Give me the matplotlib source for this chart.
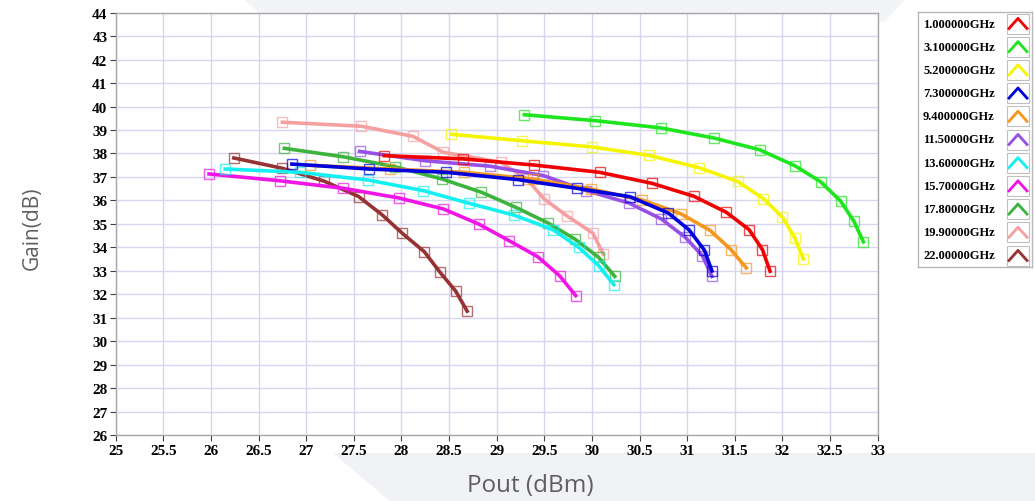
import matplotlib
matplotlib.use("Agg")
from matplotlib import pyplot as plt
from matplotlib.patches import Polygon, Rectangle

# frequency labels as shown in the legend
freq_labels = ["1.000000GHz", "3.100000GHz", "5.200000GHz", "7.300000GHz",
               "9.400000GHz", "11.50000GHz", "13.60000GHz", "15.70000GHz",
               "17.80000GHz", "19.90000GHz", "22.00000GHz"]

pout_1g0 = [27.82, 28.65, 29.39, 30.08, 30.63, 31.07, 31.41, 31.65, 31.79, 31.87]
gain_1g0 = [37.91, 37.77, 37.51, 37.20, 36.73, 36.18, 35.50, 34.76, 33.91, 32.99]

pout_3g1 = [29.29, 30.03, 30.72, 31.28, 31.76, 32.13, 32.40, 32.61, 32.75, 32.85]
gain_3g1 = [39.65, 39.40, 39.09, 38.66, 38.16, 37.48, 36.80, 35.98, 35.12, 34.24]

pout_5g2 = [28.52, 29.27, 30.00, 30.60, 31.12, 31.53, 31.80, 32.00, 32.13, 32.22]
gain_5g2 = [38.82, 38.54, 38.28, 37.92, 37.40, 36.81, 36.08, 35.29, 34.41, 33.51]

pout_7g3 = [26.85, 27.66, 28.47, 29.22, 29.84, 30.40, 30.80, 31.02, 31.18, 31.26]
gain_7g3 = [37.55, 37.34, 37.20, 36.89, 36.52, 36.16, 35.47, 34.75, 33.89, 33.00]

pout_9g4 = [27.04, 27.88, 28.66, 29.38, 29.99, 30.53, 30.93, 31.24, 31.46, 31.62]
gain_9g4 = [37.50, 37.34, 37.20, 36.91, 36.49, 36.02, 35.44, 34.73, 33.91, 33.13]

pout_11g5 = [27.56, 28.25, 28.93, 29.49, 29.94, 30.39, 30.73, 30.98, 31.16, 31.26]
gain_11g5 = [38.09, 37.69, 37.46, 37.06, 36.42, 35.89, 35.21, 34.43, 33.65, 32.77]

pout_13g6 = [26.15, 26.93, 27.65, 28.23, 28.71, 29.18, 29.59, 29.86, 30.07, 30.23]
gain_13g6 = [37.34, 37.20, 36.87, 36.42, 35.88, 35.38, 34.76, 34.01, 33.23, 32.42]

pout_15g7 = [25.98, 26.72, 27.39, 27.97, 28.44, 28.81, 29.13, 29.43, 29.66, 29.83]
gain_15g7 = [37.13, 36.84, 36.52, 36.11, 35.64, 35.00, 34.29, 33.61, 32.80, 31.95]

pout_17g8 = [26.77, 27.39, 27.93, 28.43, 28.84, 29.20, 29.54, 29.82, 30.07, 30.24]
gain_17g8 = [38.22, 37.86, 37.44, 36.91, 36.35, 35.71, 35.04, 34.36, 33.58, 32.77]

pout_19g9 = [26.75, 27.58, 28.12, 28.44, 29.04, 29.32, 29.50, 29.74, 30.01, 30.12]
gain_19g9 = [39.33, 39.16, 38.73, 38.05, 37.63, 36.90, 36.06, 35.34, 34.61, 33.71]

pout_22g0 = [26.24, 26.75, 27.19, 27.55, 27.80, 28.01, 28.24, 28.40, 28.57, 28.69]
gain_22g0 = [37.81, 37.37, 36.82, 36.17, 35.38, 34.60, 33.82, 32.97, 32.14, 31.29]

pout_all = [pout_1g0, pout_3g1, pout_5g2, pout_7g3, pout_9g4, pout_11g5,
            pout_13g6, pout_15g7, pout_17g8, pout_19g9, pout_22g0]
gain_all = [gain_1g0, gain_3g1, gain_5g2, gain_7g3, gain_9g4, gain_11g5,
            gain_13g6, gain_15g7, gain_17g8, gain_19g9, gain_22g0]

colors = ["#f00000", "#1ee61e", "#f5f500", "#0000dc", "#f5961e", "#9650e6",
          "#14f0f0", "#f014e6", "#3cb43c", "#f5a0a0", "#963232"]

tick_font = {"family": ["Liberation Serif", "DejaVu Serif"], "weight": "bold", "size": 11}
legend_font = {"family": ["Liberation Serif", "DejaVu Serif"], "weight": "bold", "size": 9}

fig = plt.figure(figsize=(10.35, 5.02), dpi=100)
fig.patch.set_facecolor("white")

# faint background shapes behind the chart
fig.patches.append(Polygon([[0.235, 1.0], [0.875, 1.0], [0.855, 0.955], [0.26, 0.955]],
                           closed=True, transform=fig.transFigure,
                           facecolor="#f3f4f7", edgecolor="none", zorder=-5))
fig.patches.append(Polygon([[0.322, 0.095], [1.0, 0.095], [1.0, 0.0], [0.377, 0.0]],
                           closed=True, transform=fig.transFigure,
                           facecolor="#f1f2f6", edgecolor="none", zorder=-5))

ax = fig.add_axes([0.1118, 0.1305, 0.7362, 0.8426])
ax.set_facecolor("white")

n = len(pout_all)
for i in range(n - 1, -1, -1):
    ax.plot(pout_all[i], gain_all[i], color=colors[i], lw=2.6, zorder=3 + (n - i))
    ax.plot(pout_all[i], gain_all[i], ls="none", marker="s", ms=6.5, mfc="none",
            mec=colors[i], mew=1.0, alpha=0.7, zorder=3 + (n - i))

ax.set_xlim(25, 33)
ax.set_ylim(26, 44)
xt = [25 + 0.5 * k for k in range(17)]
ax.set_xticks(xt)
ax.set_xticklabels([("%g" % v) for v in xt], fontdict=tick_font)
yt = list(range(26, 45))
ax.set_yticks(yt)
ax.set_yticklabels([str(v) for v in yt], fontdict=tick_font)
ax.tick_params(axis="both", direction="out", length=4, width=0.8, color="#404040", pad=2)
ax.grid(True, color="#d6d6f0", lw=1.0, zorder=0)
ax.set_axisbelow(True)
for s in ax.spines.values():
    s.set_color("#a8a8a8")
    s.set_linewidth(1.0)

fig.text(0.031, 0.546, "Gain(dB)", rotation=90, ha="center", va="center",
         fontsize=15, color="#5f5f5f", family=["Open Sans", "DejaVu Sans"])
fig.text(0.512, 0.032, "Pout (dBm)", ha="center", va="center",
         fontsize=17.5, color="#5f5f5f", family=["Open Sans", "DejaVu Sans"])

# legend panel drawn in pixel-like units
lg = fig.add_axes([918 / 1035, 1 - 268 / 502, 114 / 1035, 255 / 502])
lg.set_xlim(0, 114)
lg.set_ylim(255, 0)
lg.set_xticks([])
lg.set_yticks([])
for s in lg.spines.values():
    s.set_color("#b8b8b8")
    s.set_linewidth(1.0)
for i, lab in enumerate(freq_labels):
    cy = 11.5 + 23.2 * i
    lg.text(5, cy, lab, ha="left", va="center", fontdict=legend_font)
    lg.add_patch(Rectangle((89, cy - 10), 22, 20, facecolor="white",
                           edgecolor="#c0c0c0", lw=0.8))
    lg.plot([91, 100, 109], [cy + 5, cy - 5, cy + 5], color=colors[i], lw=2.0)
    lg.plot([92, 100, 108], [cy + 3, cy - 6, cy + 3], color=colors[i], lw=0.8, alpha=0.6)

fig.savefig("out.png", dpi=100, facecolor="white")
